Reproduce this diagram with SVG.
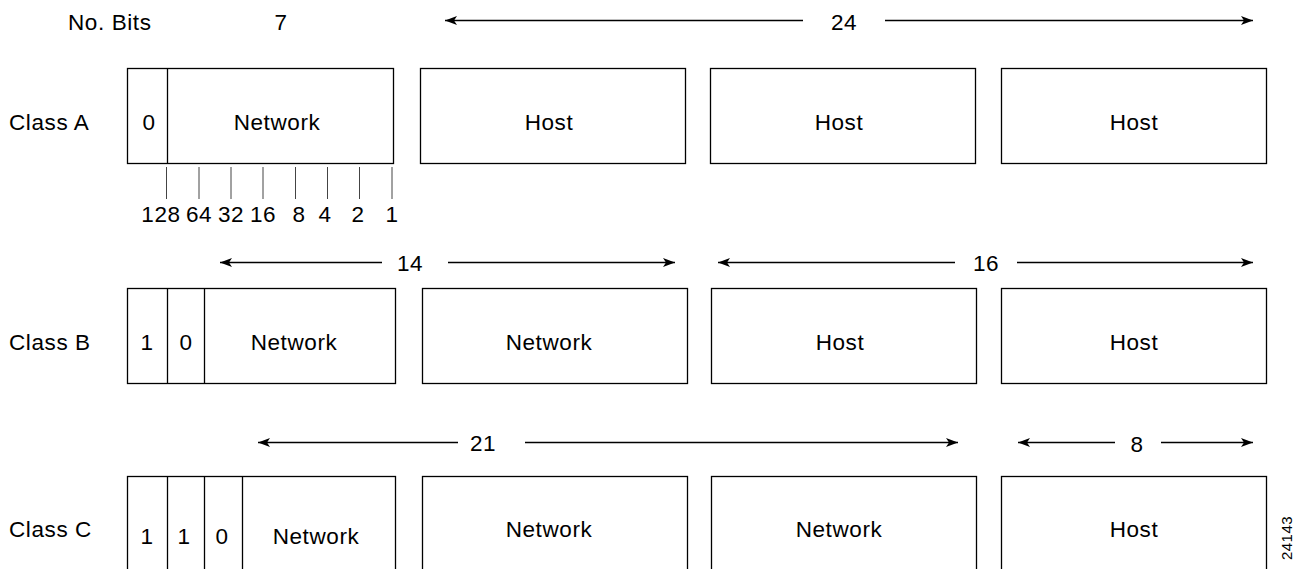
<svg xmlns="http://www.w3.org/2000/svg" width="1296" height="569" viewBox="0 0 1296 569">
<style>
  .bx{fill:#fff;stroke:#000;stroke-width:1.3}
  .dv{stroke:#000;stroke-width:1.3}
  .tk{stroke:#444;stroke-width:1}
  .ar{stroke:#000;stroke-width:1.3;fill:none;marker-end:url(#ah)}
  text{font-family:"Liberation Sans",Arial,Helvetica,sans-serif;font-size:22.5px;fill:#000;letter-spacing:0.6px}
  .c{text-anchor:middle}
  .id{font-size:15px;letter-spacing:0.5px}
</style>
<defs>
  <marker id="ah" markerUnits="userSpaceOnUse" markerWidth="12" markerHeight="9" viewBox="0 -4.5 12 9" refX="12" refY="0" orient="auto">
    <path d="M0,-4.5 L12,0 L0,4.5 L3,0 z" fill="#000"/>
  </marker>
</defs>
<rect width="1296" height="569" fill="#fff"/>

<g id="labels">
  <text x="68" y="30">No. Bits</text>
  <text class="c" x="281" y="30">7</text>
  <text x="9" y="130">Class A</text>
  <text x="9" y="350">Class B</text>
  <text x="9" y="537">Class C</text>
  <text class="c" x="844" y="30">24</text>
  <text class="c" x="410" y="271">14</text>
  <text class="c" x="986" y="271">16</text>
  <text class="c" x="483" y="451">21</text>
  <text class="c" x="1137" y="452">8</text>
  <text class="id c" transform="translate(1292,538) rotate(-90)">24143</text>
</g>

<g id="classA-octet1">
  <rect class="bx" x="127.5" y="68.5" width="266" height="95"/>
  <line class="dv" x1="167.5" y1="68.5" x2="167.5" y2="163.5"/>
  <text class="c" x="149" y="130">0</text>
  <text class="c" x="277" y="130">Network</text>
</g>
<g id="classA-octet2">
  <rect class="bx" x="420.5" y="68.5" width="265" height="95"/>
  <text class="c" x="549" y="130">Host</text>
</g>
<g id="classA-octet3">
  <rect class="bx" x="710.5" y="68.5" width="265" height="95"/>
  <text class="c" x="839" y="130">Host</text>
</g>
<g id="classA-octet4">
  <rect class="bx" x="1001.5" y="68.5" width="265" height="95"/>
  <text class="c" x="1134" y="130">Host</text>
</g>
<g id="classA-weights">
  <text class="c" x="161" y="222">128</text>
  <text class="c" x="199" y="222">64</text>
  <text class="c" x="231" y="222">32</text>
  <text class="c" x="263" y="222">16</text>
  <text class="c" x="299" y="222">8</text>
  <text class="c" x="325" y="222">4</text>
  <text class="c" x="358" y="222">2</text>
  <text class="c" x="392" y="222">1</text>
</g>

<g id="classB-octet1">
  <rect class="bx" x="127.5" y="288.5" width="268" height="95"/>
  <line class="dv" x1="167.5" y1="288.5" x2="167.5" y2="383.5"/>
  <line class="dv" x1="204.5" y1="288.5" x2="204.5" y2="383.5"/>
  <text class="c" x="147" y="350">1</text>
  <text class="c" x="186" y="350">0</text>
  <text class="c" x="294" y="350">Network</text>
</g>
<g id="classB-octet2">
  <rect class="bx" x="422.5" y="288.5" width="265" height="95"/>
  <text class="c" x="549" y="350">Network</text>
</g>
<g id="classB-octet3">
  <rect class="bx" x="711.5" y="288.5" width="265" height="95"/>
  <text class="c" x="840" y="350">Host</text>
</g>
<g id="classB-octet4">
  <rect class="bx" x="1001.5" y="288.5" width="265" height="95"/>
  <text class="c" x="1134" y="350">Host</text>
</g>

<g id="classC-octet1">
  <rect class="bx" x="127.5" y="476.5" width="268" height="100"/>
  <line class="dv" x1="167.5" y1="476.5" x2="167.5" y2="569"/>
  <line class="dv" x1="204.5" y1="476.5" x2="204.5" y2="569"/>
  <line class="dv" x1="242.5" y1="476.5" x2="242.5" y2="569"/>
  <text class="c" x="147" y="544">1</text>
  <text class="c" x="184" y="544">1</text>
  <text class="c" x="222" y="544">0</text>
  <text class="c" x="316" y="544">Network</text>
</g>
<g id="classC-octet2">
  <rect class="bx" x="422.5" y="476.5" width="265" height="100"/>
  <text class="c" x="549" y="537">Network</text>
</g>
<g id="classC-octet3">
  <rect class="bx" x="711.5" y="476.5" width="265" height="100"/>
  <text class="c" x="839" y="537">Network</text>
</g>
<g id="classC-octet4">
  <rect class="bx" x="1001.5" y="476.5" width="265" height="100"/>
  <text class="c" x="1134" y="537">Host</text>
</g>

<g id="connectors">
  <line class="ar" x1="803" y1="20.5" x2="445" y2="20.5"/>
  <line class="ar" x1="885" y1="20.5" x2="1253" y2="20.5"/>
  <line class="ar" x1="382" y1="262.5" x2="220" y2="262.5"/>
  <line class="ar" x1="448" y1="262.5" x2="675" y2="262.5"/>
  <line class="ar" x1="955" y1="262.5" x2="718" y2="262.5"/>
  <line class="ar" x1="1017" y1="262.5" x2="1253" y2="262.5"/>
  <line class="ar" x1="458" y1="442.5" x2="258" y2="442.5"/>
  <line class="ar" x1="525" y1="442.5" x2="958" y2="442.5"/>
  <line class="ar" x1="1115" y1="442.5" x2="1018" y2="442.5"/>
  <line class="ar" x1="1161" y1="442.5" x2="1253" y2="442.5"/>
  <line class="tk" x1="166.5" y1="167" x2="166.5" y2="199"/>
  <line class="tk" x1="199" y1="167" x2="199" y2="199"/>
  <line class="tk" x1="231" y1="167" x2="231" y2="199"/>
  <line class="tk" x1="263" y1="167" x2="263" y2="199"/>
  <line class="tk" x1="295.5" y1="167" x2="295.5" y2="199"/>
  <line class="tk" x1="327.5" y1="167" x2="327.5" y2="199"/>
  <line class="tk" x1="359.5" y1="167" x2="359.5" y2="199"/>
  <line class="tk" x1="392" y1="167" x2="392" y2="199"/>
</g>
</svg>
